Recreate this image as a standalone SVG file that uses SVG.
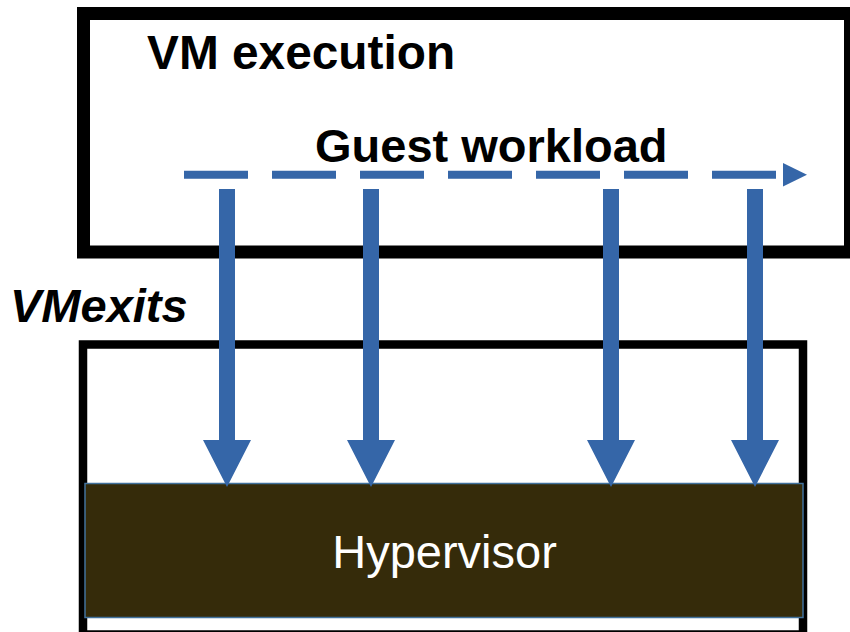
<svg xmlns="http://www.w3.org/2000/svg" width="850" height="632" viewBox="0 0 850 632">
  <style>
    .frame { fill: #ffffff; stroke: #000000; }
    .label { font-family: "Liberation Sans", Arial, sans-serif; font-size: 47px; fill: #000000; }
    .bold { font-weight: bold; }
    .exit { fill: #3566A8; }
    .flow { stroke: #3566A8; stroke-width: 8; fill: none; stroke-dasharray: 64 24; }
  </style>
  <defs>
    <!-- one VMexit arrow: shaft plus triangular head, centred on x=0 -->
    <path id="exitArrow" d="M-8,189 H8 V440 H24 L0,487 L-24,440 H-8 Z"/>
  </defs>
  <rect width="850" height="632" fill="#ffffff"/>

  <g id="vm-execution">
    <rect class="frame" x="83.5" y="13.5" width="767" height="238.5" stroke-width="13"/>
    <text class="label bold" x="147" y="69" style="font-size:47.8px">VM execution</text>
    <text class="label bold" x="315" y="162">Guest workload</text>
  </g>

  <g id="host">
    <rect class="frame" x="83" y="344.5" width="720" height="290" stroke-width="8.5"/>
  </g>

  <g id="hypervisor">
    <rect x="85" y="483.5" width="718" height="134" fill="#352B0A" stroke="#41719C" stroke-width="1.5"/>
    <text class="label" x="444.5" y="568" text-anchor="middle" style="fill:#ffffff">Hypervisor</text>
  </g>

  <g id="vmexits-label">
    <text class="label bold" x="10" y="322" font-style="italic">VMexits</text>
  </g>

  <g id="connectors">
    <!-- guest workload timeline -->
    <path class="flow" d="M184,174.7 H776"/>
    <polygon class="exit" points="783,163 807,174.7 783,186.5"/>
    <!-- VMexits into the hypervisor -->
    <use href="#exitArrow" class="exit" x="227"/>
    <use href="#exitArrow" class="exit" x="371"/>
    <use href="#exitArrow" class="exit" x="611"/>
    <use href="#exitArrow" class="exit" x="755"/>
  </g>
</svg>
